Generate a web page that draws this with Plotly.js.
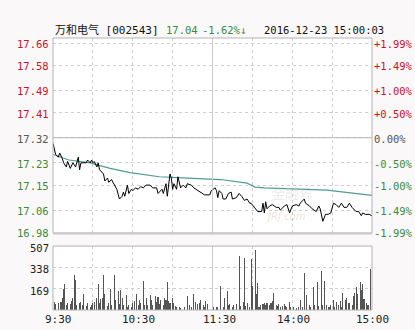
<!DOCTYPE html>
<html><head><meta charset="utf-8">
<script src="https://cdn.plot.ly/plotly-3.0.1.min.js"></script>
<style>html,body{margin:0;padding:0;background:#faf8f8;}#chart{width:415px;height:330px;}</style>
</head><body><div id="chart"></div>
<script>
// minutes since 9:30 (trading minutes, 11:30/13:00 = 120)
const priceTimes = [0,2,4,5,7,8,10,11,13,15,17,19,20,21,23,25,26,28,29,30,31,33,34,35,38,39,41,42,44,45,48,50,52,53,54,56,57,59,60,62,64,66,68,70,73,75,78,79,82,83,85,86,87,88,89,90,91,93,94,96,98,100,101,104,106,109,112,114,118,119,122,123,124,125,127,128,130,132,134,135,138,140,142,144,146,148,149,152,154,157,158,159,160,161,163,165,168,170,171,174,176,178,180,183,185,186,189,190,193,195,198,200,201,203,205,207,209,211,213,215,217,219,221,223,225,228,230,232,233,235,238,240];
const prices = [17.30,17.26,17.25,17.265,17.245,17.23,17.215,17.235,17.21,17.23,17.215,17.25,17.205,17.23,17.23,17.23,17.24,17.23,17.24,17.23,17.235,17.215,17.23,17.205,17.19,17.165,17.175,17.16,17.17,17.16,17.135,17.10,17.11,17.125,17.11,17.15,17.12,17.135,17.13,17.14,17.135,17.145,17.14,17.15,17.15,17.14,17.14,17.12,17.135,17.12,17.155,17.11,17.165,17.19,17.175,17.135,17.155,17.135,17.18,17.14,17.15,17.14,17.155,17.15,17.14,17.13,17.12,17.115,17.115,17.13,17.14,17.13,17.105,17.13,17.12,17.10,17.10,17.12,17.125,17.10,17.105,17.12,17.11,17.095,17.10,17.085,17.085,17.065,17.055,17.055,17.085,17.05,17.09,17.065,17.075,17.08,17.07,17.07,17.06,17.075,17.08,17.05,17.075,17.08,17.075,17.085,17.10,17.085,17.075,17.065,17.055,17.075,17.065,17.02,17.045,17.045,17.05,17.085,17.08,17.07,17.085,17.07,17.07,17.085,17.07,17.055,17.055,17.04,17.05,17.045,17.045,17.04];
const avgTimes = [0,12,28,43,58,80,101,126,146,152,159,206,240];
const avgPrices = [17.26,17.24,17.23,17.21,17.195,17.18,17.175,17.17,17.157,17.143,17.14,17.132,17.113];
const volTimes = [1,2,4,6,7,8,9,10,11,13,14,15,16,17,18,20,21,22,23,25,26,28,29,30,31,33,34,35,36,37,38,39,41,42,43,44,46,47,49,50,51,52,53,55,56,57,59,60,61,63,64,65,66,68,69,70,71,73,74,75,77,78,79,80,81,83,84,85,86,87,88,90,91,92,93,95,96,99,101,103,104,106,107,109,110,111,113,114,115,116,121,123,124,126,128,129,131,132,133,135,136,138,140,141,143,144,145,146,148,149,150,152,153,154,155,156,158,159,160,161,163,164,165,166,168,169,170,171,173,174,175,176,178,179,181,183,185,186,188,189,191,193,194,196,197,199,200,202,203,204,206,207,208,209,211,212,213,215,216,217,218,220,221,222,223,225,226,227,228,229,231,232,233,234,236,237,239];
const volumes = [65,47,57,65,99,169,208,39,52,47,70,99,281,239,39,57,65,39,125,31,57,26,39,52,65,99,203,52,91,99,281,130,31,52,169,39,281,78,151,47,156,99,39,117,26,39,26,52,73,130,39,83,52,229,39,99,39,117,78,39,109,65,104,47,83,39,99,78,221,73,57,99,52,31,26,21,13,26,109,39,26,125,65,47,57,83,39,26,73,47,26,21,26,190,26,99,151,39,47,26,39,47,429,31,65,411,31,52,26,403,187,473,130,213,26,39,47,57,39,52,39,57,73,135,39,31,47,26,31,47,31,26,65,26,26,18,26,78,26,291,117,39,26,182,39,221,31,307,39,234,39,26,26,39,78,26,65,39,73,26,135,83,99,52,57,39,109,135,182,130,221,156,203,91,52,39,325];
const preClose = 17.32;
const priceTicks = [17.66,17.58,17.49,17.41,17.32,17.23,17.15,17.06,16.98];
const priceLabels = ['17.66','17.58','17.49','17.41','17.32','17.23','17.15','17.06','16.98'];
const pctLabels = ['+1.99%','+1.49%','+1.00%','+0.50%','0.00%','-0.50%','-1.00%','-1.49%','-1.99%'];
const volTicks = [169,338,507];
const volLabels = ['169','338','507'];
const gridTimes = [30,60,90,120,150,180,210];
const timeTicks = [0,60,120,180,240];
const timeLabels = ['9:30','10:30','11:30','14:00','15:00'];
const titleParts = ['万和电气 [002543]','17.04','-1.62%↓','2016-12-23 15:00:03'];

const RED='#d0101e', GREEN='#3a8a3a', GRAY='#555555';
const mono = 'DejaVu Sans Mono, Liberation Mono, monospace';
function labColor(v){ return v>preClose+1e-9?RED:(v<preClose-1e-9?GREEN:GRAY); }

const traces = [
  {x:avgTimes, y:avgPrices, type:'scatter', mode:'lines', line:{color:'#4e9b99', width:1.2}, xaxis:'x', yaxis:'y', hoverinfo:'skip'},
  {x:priceTimes, y:prices, type:'scatter', mode:'lines', line:{color:'#000000', width:1}, xaxis:'x', yaxis:'y', hoverinfo:'skip'},
  {x:volTimes, y:volumes, type:'bar', width:0.8, marker:{color:'#555555', line:{width:0}}, xaxis:'x2', yaxis:'y2', hoverinfo:'skip'}
];

const annotations = [];
priceTicks.forEach((v,i)=>{
  const c = labColor(v);
  annotations.push({xref:'paper', yref:'y', x:-0.006, y:v, xanchor:'right', yanchor:'middle', yshift:-1, text:priceLabels[i], showarrow:false, font:{family:mono, size:10.5, color:c}});
  annotations.push({xref:'paper', yref:'y', x:1.0, y:v, xanchor:'left', yanchor:'middle', yshift:-1, text:pctLabels[i], showarrow:false, font:{family:mono, size:10.5, color:c}});
});
volTicks.forEach((v,i)=>{
  annotations.push({xref:'paper', yref:'y2', x:-0.006, y:v, xanchor:'right', yanchor:'middle', yshift:-2, text:volLabels[i], showarrow:false, font:{family:mono, size:10.5, color:'#222'}});
});
const tShift = [5,6,7,1,0];
timeTicks.forEach((t,i)=>{
  annotations.push({xref:'x2', yref:'paper', x:t, y:-0.005, xanchor:'center', yanchor:'top', xshift:tShift[i], text:timeLabels[i], showarrow:false, font:{family:mono, size:11, color:'#222'}});
});
const tx=[0,0.348,0.461,0.655], tc=['#111',GREEN,GREEN,'#111'], ts=[11,10.5,10.5,10.5];
titleParts.forEach((s,i)=>{
  annotations.push({xref:'paper', yref:'paper', x:tx[i], y:1.03, xanchor:'left', yanchor:'middle', text:s, showarrow:false, font:{family:'DejaVu Sans Mono, Noto Sans CJK SC', size:ts[i], color:tc[i]}});
});
// faint watermark
annotations.push({xref:'paper', yref:'paper', x:0.82, y:0.43, text:'金融界', showarrow:false, font:{family:'Noto Sans CJK SC', size:14, color:'rgba(200,200,200,0.35)'}});
annotations.push({xref:'paper', yref:'paper', x:0.80, y:0.345, text:'<i>JRJ.com</i>', showarrow:false, font:{family:'DejaVu Sans', size:10, color:'rgba(220,160,160,0.35)'}});

const shapes = [
  {type:'line', xref:'x', yref:'y', x0:0, x1:240, y0:preClose, y1:preClose, line:{color:'#b8b8b8', width:1}},
  {type:'line', xref:'x', yref:'paper', x0:120, x1:120, y0:0.283, y1:1, line:{color:'#cccccc', width:1}},
  {type:'line', xref:'x', yref:'paper', x0:120, x1:120, y0:0, y1:0.235, line:{color:'#cccccc', width:1}},
  {type:'rect', xref:'paper', yref:'paper', x0:0, x1:1, y0:0.283, y1:1, line:{color:'#b4b4b4', width:1}},
  {type:'line', xref:'paper', yref:'paper', x0:0, x1:1, y0:0.281, y1:0.281, line:{color:'#c8c8c8', width:2}},
  {type:'rect', xref:'paper', yref:'paper', x0:0, x1:1, y0:0, y1:0.235, line:{color:'#b4b4b4', width:1}}
];

const layout = {
  width:415, height:330, margin:{l:53, r:43, t:38, b:20},
  paper_bgcolor:'#faf8f8', plot_bgcolor:'#ffffff', showlegend:false, bargap:0,
  xaxis:{domain:[0,1], range:[0,240], tickvals:gridTimes, showticklabels:false, ticks:'', showgrid:true, gridcolor:'#cfcfcf', griddash:'dot', zeroline:false, showline:false, anchor:'y', fixedrange:true},
  yaxis:{domain:[0.283,1], range:[16.978,17.678], tickvals:priceTicks, showticklabels:false, ticks:'', showgrid:true, gridcolor:'#cfcfcf', griddash:'dot', zeroline:false, showline:false, anchor:'x'},
  xaxis2:{domain:[0,1], range:[0,240], tickvals:gridTimes, showticklabels:false, ticks:'', showgrid:true, gridcolor:'#cfcfcf', griddash:'dot', zeroline:false, showline:false, anchor:'y2'},
  yaxis2:{domain:[0,0.235], range:[0,507], tickvals:volTicks, showticklabels:false, ticks:'', showgrid:true, gridcolor:'#cfcfcf', griddash:'dot', zeroline:false, showline:false, anchor:'x2'},
  annotations:annotations, shapes:shapes
};
Plotly.newPlot('chart', traces, layout, {staticPlot:true, displayModeBar:false});
</script></body></html>
